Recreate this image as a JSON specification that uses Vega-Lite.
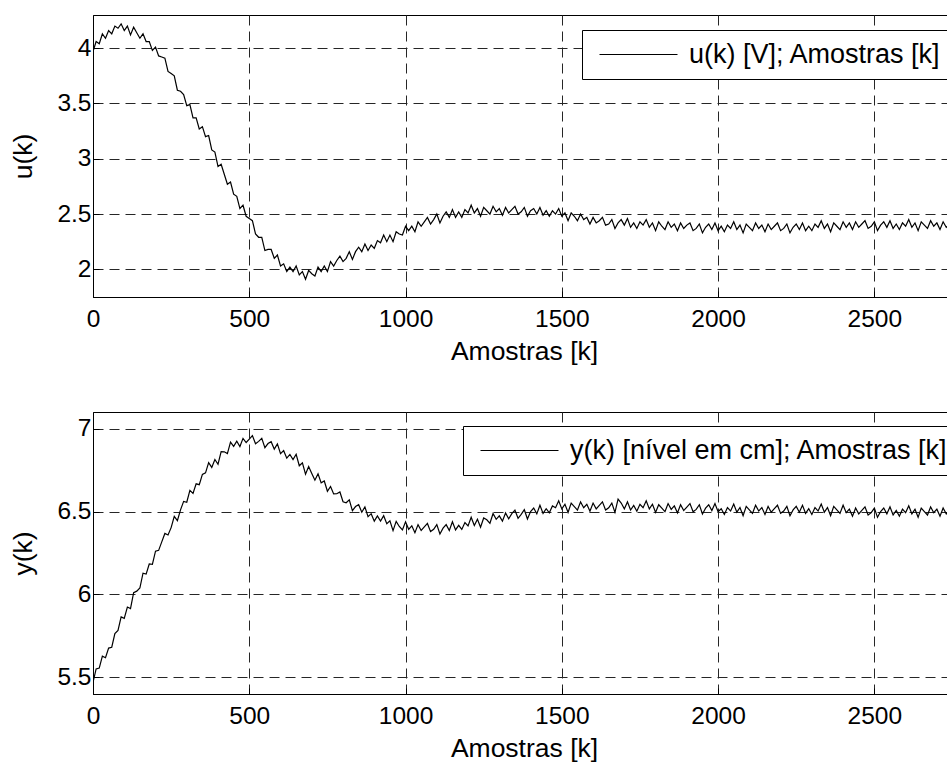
{
  "$schema": "https://vega.github.io/schema/vega-lite/v6.json",
  "background": "white",
  "padding": {"left": 10, "top": 14, "right": 0, "bottom": 0},
  "spacing": 45,
  "config": {
    "font": "Liberation Sans",
    "view": {"stroke": "black", "strokeWidth": 1},
    "axis": {
      "labelFont": "Liberation Sans", "labelFontSize": 24.5, "labelColor": "black",
      "titleFont": "Liberation Sans", "titleFontSize": 26.5, "titleFontWeight": "normal", "titleColor": "black",
      "grid": true, "gridColor": "#262626", "gridDash": [10, 6], "gridWidth": 1, "gridOpacity": 1,
      "domain": true, "domainColor": "black", "domainWidth": 1,
      "ticks": true, "tickColor": "black", "tickSize": -6,
      "labelFlush": false, "labelOverlap": false, "labelPadding": 8
    },
    "axisX": {"labelPadding": 16, "titlePadding": 8},
    "axisY": {"labelPadding": 8, "titlePadding": 19},
    "legend": {
      "title": null, "orient": "none", "strokeColor": "black", "fillColor": "white",
      "padding": 11, "symbolType": "M-3,0H3", "symbolSize": 676, "symbolStrokeWidth": 1,
      "symbolOffset": 32, "labelOffset": 37, "labelFontSize": 27, "labelFont": "Liberation Sans",
      "labelColor": "black", "labelLimit": 600
    }
  },
  "data": {"values": [
{"k":0,"u":3.97,"y":5.47},{"k":10,"u":4.06,"y":5.551},{"k":20,"u":4.04,"y":5.556},{"k":30,"u":4.13,"y":5.628},{"k":40,"u":4.09,"y":5.619},{"k":50,"u":4.16,"y":5.677},{"k":60,"u":4.13,"y":5.682},{"k":70,"u":4.20,"y":5.764},{"k":80,"u":4.18,"y":5.783},{"k":90,"u":4.22,"y":5.865},
{"k":100,"u":4.16,"y":5.856},{"k":110,"u":4.20,"y":5.924},{"k":120,"u":4.12,"y":5.915},{"k":130,"u":4.19,"y":6.011},{"k":140,"u":4.14,"y":6.02},{"k":150,"u":4.09,"y":6.039},{"k":160,"u":4.13,"y":6.128},{"k":170,"u":4.06,"y":6.123},{"k":180,"u":4.06,"y":6.184},{"k":190,"u":3.98,"y":6.182},
{"k":200,"u":4.01,"y":6.261},{"k":210,"u":3.93,"y":6.266},{"k":220,"u":3.92,"y":6.317},{"k":230,"u":3.91,"y":6.368},{"k":240,"u":3.79,"y":6.359},{"k":250,"u":3.77,"y":6.403},{"k":260,"u":3.75,"y":6.471},{"k":270,"u":3.62,"y":6.445},{"k":280,"u":3.61,"y":6.51},{"k":290,"u":3.58,"y":6.561},
{"k":300,"u":3.48,"y":6.556},{"k":310,"u":3.49,"y":6.628},{"k":320,"u":3.37,"y":6.609},{"k":330,"u":3.37,"y":6.667},{"k":340,"u":3.27,"y":6.662},{"k":350,"u":3.29,"y":6.724},{"k":360,"u":3.20,"y":6.733},{"k":370,"u":3.21,"y":6.795},{"k":380,"u":3.08,"y":6.766},{"k":390,"u":3.06,"y":6.814},
{"k":400,"u":2.93,"y":6.785},{"k":410,"u":2.95,"y":6.861},{"k":420,"u":2.86,"y":6.86},{"k":430,"u":2.77,"y":6.849},{"k":440,"u":2.79,"y":6.918},{"k":450,"u":2.68,"y":6.893},{"k":460,"u":2.66,"y":6.924},{"k":470,"u":2.55,"y":6.892},{"k":480,"u":2.58,"y":6.941},{"k":490,"u":2.48,"y":6.916},
{"k":500,"u":2.46,"y":6.937},{"k":510,"u":2.44,"y":6.958},{"k":520,"u":2.32,"y":6.909},{"k":530,"u":2.29,"y":6.923},{"k":540,"u":2.29,"y":6.941},{"k":550,"u":2.17,"y":6.885},{"k":560,"u":2.18,"y":6.91},{"k":570,"u":2.18,"y":6.921},{"k":580,"u":2.10,"y":6.876},{"k":590,"u":2.13,"y":6.908},
{"k":600,"u":2.03,"y":6.849},{"k":610,"u":2.05,"y":6.867},{"k":620,"u":1.98,"y":6.822},{"k":630,"u":2.02,"y":6.844},{"k":640,"u":1.98,"y":6.813},{"k":650,"u":2.03,"y":6.845},{"k":660,"u":1.95,"y":6.776},{"k":670,"u":1.98,"y":6.794},{"k":680,"u":1.91,"y":6.725},{"k":690,"u":1.99,"y":6.771},
{"k":700,"u":1.96,"y":6.73},{"k":710,"u":1.94,"y":6.689},{"k":720,"u":2.02,"y":6.728},{"k":730,"u":1.98,"y":6.673},{"k":740,"u":2.03,"y":6.684},{"k":750,"u":1.98,"y":6.622},{"k":760,"u":2.07,"y":6.651},{"k":770,"u":2.03,"y":6.606},{"k":780,"u":2.08,"y":6.607},{"k":790,"u":2.12,"y":6.618},
{"k":800,"u":2.07,"y":6.559},{"k":810,"u":2.10,"y":6.553},{"k":820,"u":2.16,"y":6.571},{"k":830,"u":2.09,"y":6.505},{"k":840,"u":2.16,"y":6.53},{"k":850,"u":2.20,"y":6.541},{"k":860,"u":2.16,"y":6.496},{"k":870,"u":2.23,"y":6.528},{"k":880,"u":2.17,"y":6.469},{"k":890,"u":2.22,"y":6.487},
{"k":900,"u":2.19,"y":6.442},{"k":910,"u":2.26,"y":6.474},{"k":920,"u":2.24,"y":6.443},{"k":930,"u":2.31,"y":6.475},{"k":940,"u":2.25,"y":6.426},{"k":950,"u":2.31,"y":6.444},{"k":960,"u":2.25,"y":6.385},{"k":970,"u":2.34,"y":6.441},{"k":980,"u":2.32,"y":6.41},{"k":990,"u":2.31,"y":6.389},
{"k":1000,"u":2.39,"y":6.438},{"k":1010,"u":2.35,"y":6.393},{"k":1020,"u":2.39,"y":6.414},{"k":1030,"u":2.34,"y":6.372},{"k":1040,"u":2.43,"y":6.421},{"k":1050,"u":2.39,"y":6.386},{"k":1060,"u":2.43,"y":6.407},{"k":1070,"u":2.47,"y":6.428},{"k":1080,"u":2.41,"y":6.379},{"k":1090,"u":2.45,"y":6.393},
{"k":1100,"u":2.50,"y":6.421},{"k":1110,"u":2.42,"y":6.365},{"k":1120,"u":2.48,"y":6.40},{"k":1130,"u":2.52,"y":6.421},{"k":1140,"u":2.47,"y":6.386},{"k":1150,"u":2.54,"y":6.438},{"k":1160,"u":2.47,"y":6.389},{"k":1170,"u":2.52,"y":6.417},{"k":1180,"u":2.47,"y":6.392},{"k":1190,"u":2.54,"y":6.434},
{"k":1200,"u":2.51,"y":6.413},{"k":1210,"u":2.58,"y":6.465},{"k":1220,"u":2.51,"y":6.416},{"k":1230,"u":2.55,"y":6.454},{"k":1240,"u":2.48,"y":6.405},{"k":1250,"u":2.56,"y":6.461},{"k":1260,"u":2.53,"y":6.45},{"k":1270,"u":2.50,"y":6.429},{"k":1280,"u":2.57,"y":6.488},{"k":1290,"u":2.52,"y":6.453},
{"k":1300,"u":2.55,"y":6.474},{"k":1310,"u":2.49,"y":6.442},{"k":1320,"u":2.56,"y":6.491},{"k":1330,"u":2.51,"y":6.456},{"k":1340,"u":2.54,"y":6.487},{"k":1350,"u":2.57,"y":6.508},{"k":1360,"u":2.50,"y":6.459},{"k":1370,"u":2.52,"y":6.483},{"k":1380,"u":2.56,"y":6.511},{"k":1390,"u":2.48,"y":6.455},
{"k":1400,"u":2.53,"y":6.50},{"k":1410,"u":2.55,"y":6.521},{"k":1420,"u":2.50,"y":6.486},{"k":1430,"u":2.56,"y":6.538},{"k":1440,"u":2.49,"y":6.489},{"k":1450,"u":2.53,"y":6.517},{"k":1460,"u":2.48,"y":6.492},{"k":1470,"u":2.53,"y":6.534},{"k":1480,"u":2.50,"y":6.523},{"k":1490,"u":2.55,"y":6.565},
{"k":1500,"u":2.48,"y":6.516},{"k":1510,"u":2.51,"y":6.544},{"k":1520,"u":2.44,"y":6.495},{"k":1530,"u":2.51,"y":6.551},{"k":1540,"u":2.48,"y":6.53},{"k":1550,"u":2.44,"y":6.509},{"k":1560,"u":2.50,"y":6.558},{"k":1570,"u":2.45,"y":6.523},{"k":1580,"u":2.47,"y":6.544},{"k":1590,"u":2.41,"y":6.502},
{"k":1600,"u":2.47,"y":6.551},{"k":1610,"u":2.42,"y":6.516},{"k":1620,"u":2.44,"y":6.537},{"k":1630,"u":2.47,"y":6.558},{"k":1640,"u":2.40,"y":6.509},{"k":1650,"u":2.41,"y":6.523},{"k":1660,"u":2.45,"y":6.551},{"k":1670,"u":2.37,"y":6.495},{"k":1680,"u":2.42,"y":6.575},{"k":1690,"u":2.45,"y":6.551},
{"k":1700,"u":2.40,"y":6.516},{"k":1710,"u":2.46,"y":6.558},{"k":1720,"u":2.38,"y":6.509},{"k":1730,"u":2.42,"y":6.537},{"k":1740,"u":2.37,"y":6.502},{"k":1750,"u":2.43,"y":6.544},{"k":1760,"u":2.40,"y":6.523},{"k":1770,"u":2.45,"y":6.565},{"k":1780,"u":2.38,"y":6.516},{"k":1790,"u":2.42,"y":6.544},
{"k":1800,"u":2.35,"y":6.495},{"k":1810,"u":2.43,"y":6.541},{"k":1820,"u":2.39,"y":6.52},{"k":1830,"u":2.36,"y":6.499},{"k":1840,"u":2.43,"y":6.548},{"k":1850,"u":2.38,"y":6.513},{"k":1860,"u":2.41,"y":6.534},{"k":1870,"u":2.35,"y":6.492},{"k":1880,"u":2.42,"y":6.541},{"k":1890,"u":2.37,"y":6.506},
{"k":1900,"u":2.40,"y":6.527},{"k":1910,"u":2.42,"y":6.548},{"k":1920,"u":2.35,"y":6.499},{"k":1930,"u":2.37,"y":6.513},{"k":1940,"u":2.41,"y":6.541},{"k":1950,"u":2.33,"y":6.485},{"k":1960,"u":2.38,"y":6.52},{"k":1970,"u":2.41,"y":6.541},{"k":1980,"u":2.36,"y":6.506},{"k":1990,"u":2.42,"y":6.548},
{"k":2000,"u":2.35,"y":6.499},{"k":2010,"u":2.39,"y":6.517},{"k":2020,"u":2.34,"y":6.482},{"k":2030,"u":2.40,"y":6.524},{"k":2040,"u":2.37,"y":6.503},{"k":2050,"u":2.43,"y":6.545},{"k":2060,"u":2.36,"y":6.496},{"k":2070,"u":2.40,"y":6.524},{"k":2080,"u":2.33,"y":6.475},{"k":2090,"u":2.41,"y":6.531},
{"k":2100,"u":2.38,"y":6.51},{"k":2110,"u":2.35,"y":6.489},{"k":2120,"u":2.42,"y":6.538},{"k":2130,"u":2.37,"y":6.503},{"k":2140,"u":2.40,"y":6.524},{"k":2150,"u":2.34,"y":6.482},{"k":2160,"u":2.41,"y":6.531},{"k":2170,"u":2.36,"y":6.496},{"k":2180,"u":2.39,"y":6.517},{"k":2190,"u":2.42,"y":6.538},
{"k":2200,"u":2.35,"y":6.489},{"k":2210,"u":2.37,"y":6.503},{"k":2220,"u":2.41,"y":6.531},{"k":2230,"u":2.33,"y":6.475},{"k":2240,"u":2.38,"y":6.51},{"k":2250,"u":2.41,"y":6.531},{"k":2260,"u":2.36,"y":6.496},{"k":2270,"u":2.42,"y":6.538},{"k":2280,"u":2.35,"y":6.489},{"k":2290,"u":2.39,"y":6.517},
{"k":2300,"u":2.35,"y":6.482},{"k":2310,"u":2.41,"y":6.524},{"k":2320,"u":2.38,"y":6.503},{"k":2330,"u":2.44,"y":6.545},{"k":2340,"u":2.37,"y":6.496},{"k":2350,"u":2.41,"y":6.524},{"k":2360,"u":2.34,"y":6.475},{"k":2370,"u":2.42,"y":6.531},{"k":2380,"u":2.39,"y":6.51},{"k":2390,"u":2.36,"y":6.489},
{"k":2400,"u":2.43,"y":6.538},{"k":2410,"u":2.38,"y":6.493},{"k":2420,"u":2.42,"y":6.514},{"k":2430,"u":2.36,"y":6.472},{"k":2440,"u":2.43,"y":6.521},{"k":2450,"u":2.38,"y":6.486},{"k":2460,"u":2.41,"y":6.507},{"k":2470,"u":2.44,"y":6.528},{"k":2480,"u":2.37,"y":6.479},{"k":2490,"u":2.39,"y":6.493},
{"k":2500,"u":2.43,"y":6.521},{"k":2510,"u":2.35,"y":6.465},{"k":2520,"u":2.40,"y":6.50},{"k":2530,"u":2.43,"y":6.521},{"k":2540,"u":2.38,"y":6.486},{"k":2550,"u":2.44,"y":6.528},{"k":2560,"u":2.37,"y":6.479},{"k":2570,"u":2.41,"y":6.507},{"k":2580,"u":2.36,"y":6.472},{"k":2590,"u":2.42,"y":6.514},
{"k":2600,"u":2.39,"y":6.493},{"k":2610,"u":2.45,"y":6.535},{"k":2620,"u":2.38,"y":6.486},{"k":2630,"u":2.42,"y":6.514},{"k":2640,"u":2.35,"y":6.465},{"k":2650,"u":2.43,"y":6.521},{"k":2660,"u":2.40,"y":6.50},{"k":2670,"u":2.37,"y":6.479},{"k":2680,"u":2.44,"y":6.528},{"k":2690,"u":2.39,"y":6.493},
{"k":2700,"u":2.42,"y":6.514},{"k":2710,"u":2.36,"y":6.472},{"k":2720,"u":2.43,"y":6.521},{"k":2730,"u":2.38,"y":6.486},{"k":2740,"u":2.41,"y":6.507},{"k":2750,"u":2.44,"y":6.528},{"k":2760,"u":2.37,"y":6.479}
  ]},
  "vconcat": [
    {
      "width": 862, "height": 282,
      "mark": {"type": "line", "strokeWidth": 1.2, "clip": true},
      "encoding": {
        "x": {"field": "k", "type": "quantitative",
              "scale": {"domain": [0, 2758], "nice": false, "zero": false},
              "axis": {"values": [0, 500, 1000, 1500, 2000, 2500], "format": "d", "title": "Amostras [k]"}},
        "y": {"field": "u", "type": "quantitative",
              "scale": {"domain": [1.75, 4.3], "nice": false, "zero": false},
              "axis": {"values": [2, 2.5, 3, 3.5, 4], "format": "~g", "title": "u(k)"}},
        "color": {"datum": "u(k) [V]; Amostras [k]", "type": "nominal",
                  "scale": {"range": ["black"]},
                  "legend": {"orient": "none", "legendX": 489, "legendY": 15}}
      }
    },
    {
      "width": 862, "height": 282,
      "mark": {"type": "line", "strokeWidth": 1.2, "clip": true},
      "encoding": {
        "x": {"field": "k", "type": "quantitative",
              "scale": {"domain": [0, 2758], "nice": false, "zero": false},
              "axis": {"values": [0, 500, 1000, 1500, 2000, 2500], "format": "d", "title": "Amostras [k]"}},
        "y": {"field": "y", "type": "quantitative",
              "scale": {"domain": [5.4, 7.1], "nice": false, "zero": false},
              "axis": {"values": [5.5, 6, 6.5, 7], "format": "~g", "title": "y(k)"}},
        "color": {"datum": "y(k) [nível em cm]; Amostras [k]", "type": "nominal",
                  "scale": {"range": ["black"]},
                  "legend": {"orient": "none", "legendX": 370, "legendY": 14}}
      }
    }
  ],
  "resolve": {"scale": {"color": "independent", "x": "independent"}, "legend": {"color": "independent"}}
}
